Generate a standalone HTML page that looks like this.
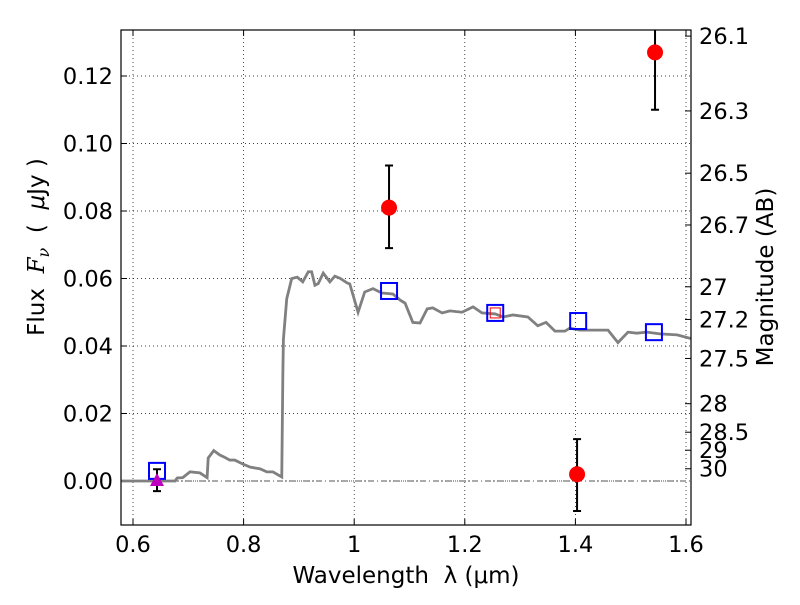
<!DOCTYPE html>
<html><head><meta charset="utf-8"><style>
body{margin:0;background:#fff}
svg text{font-family:"DejaVu Sans","Liberation Sans",sans-serif;fill:#000;white-space:pre}
</style></head><body>
<svg id="c" width="800" height="600"></svg>
<script>
const specLam=[0.578,0.676,0.680,0.690,0.703,0.721,0.734,0.736,0.746,0.757,0.766,0.775,0.784,0.799,0.812,0.830,0.842,0.853,0.869,0.871,0.872,0.878,0.887,0.897,0.907,0.917,0.923,0.929,0.935,0.944,0.956,0.965,0.975,0.987,0.992,1.007,1.019,1.034,1.050,1.070,1.083,1.092,1.106,1.119,1.132,1.142,1.159,1.173,1.195,1.215,1.231,1.255,1.269,1.287,1.314,1.332,1.347,1.363,1.381,1.390,1.408,1.432,1.459,1.477,1.495,1.511,1.529,1.553,1.584,1.609];
const specFlux=[0,0,0.0009,0.001,0.0027,0.0024,0.001,0.0068,0.009,0.0077,0.007,0.0062,0.0062,0.005,0.0041,0.0036,0.0027,0.0027,0.0012,0.032,0.042,0.054,0.060,0.0604,0.059,0.062,0.062,0.058,0.0585,0.0616,0.059,0.0607,0.0600,0.0587,0.0584,0.050,0.056,0.057,0.0557,0.0554,0.0536,0.0527,0.047,0.0468,0.051,0.0513,0.0498,0.0504,0.050,0.0516,0.0498,0.0495,0.0486,0.0492,0.0486,0.046,0.047,0.0444,0.0444,0.0453,0.0447,0.0447,0.0447,0.041,0.0441,0.0438,0.0441,0.0436,0.0433,0.0422];
const modelLam=[0.6434,1.063,1.255,1.405,1.542];
const modelFlux=[0.003,0.0563,0.0498,0.0474,0.0441];
const obsLam=[1.063,1.403,1.544];
const obsFlux=[0.081,0.002,0.127];
const obsLo=[0.069,-0.0089,0.110];
const obsHi=[0.0935,0.0124,0.144];
const limLam=[0.6434];const limFlux=[0];const limLo=[-0.003];const limHi=[0.0035];
const xTicks=[0.6,0.8,1.0,1.2,1.4,1.6];const xTickLabels=["0.6","0.8","1","1.2","1.4","1.6"];
const yTicks=[0,0.02,0.04,0.06,0.08,0.10,0.12];const yTickLabels=["0.00","0.02","0.04","0.06","0.08","0.10","0.12"];
const magTicks=[26.1,26.3,26.5,26.7,27,27.2,27.5,28,28.5,29,30];const magLabels=["26.1","26.3","26.5","26.7","27","27.2","27.5","28","28.5","29","30"];
const L=121,R=691,T=30,B=525;
const sx=v=>133+(v-0.6)*553;
const sy=v=>481-v*3375;
const svg=document.getElementById('c');const NS='http://www.w3.org/2000/svg';
function el(t,a,txt){const e=document.createElementNS(NS,t);for(const k in a)e.setAttribute(k,a[k]);if(txt!==undefined)e.textContent=txt;svg.appendChild(e);return e;}
const defs=document.createElementNS(NS,'defs');defs.innerHTML='<clipPath id="cp"><rect x="121" y="30" width="570" height="495"/></clipPath>';svg.appendChild(defs);
xTicks.forEach((v,i)=>{const g=el('line',{x1:sx(v),x2:sx(v),y1:T,y2:B,stroke:'#000','stroke-width':0.7,'stroke-dasharray':'1,3'});

const tk=el('line',{x1:sx(v),x2:sx(v),y1:B,y2:B-6,stroke:'#000'});
const t2=el('line',{x1:sx(v),x2:sx(v),y1:T,y2:T+6,stroke:'#000'});
const tl=el('text',{x:sx(v),y:B+27,'font-size':22.5,'text-anchor':'middle'},xTickLabels[i]);});
yTicks.forEach((v,i)=>{const g=el('line',{x1:L,x2:R,y1:sy(v),y2:sy(v),stroke:'#000','stroke-width':0.7,'stroke-dasharray':'1,3'});

const tk=el('line',{x1:L,x2:L+6,y1:sy(v),y2:sy(v),stroke:'#000'});
const tl=el('text',{x:L-8,y:sy(v)+8,'font-size':22.5,'text-anchor':'end'},yTickLabels[i]);});
magTicks.forEach((m,i)=>{const y=sy(Math.pow(10,(23.9-m)/2.5));
const tk=el('line',{x1:R-6,x2:R,y1:y,y2:y,stroke:'#000'});
const tl=el('text',{x:R+8,y:y+8,'font-size':22.5},magLabels[i]);});
const zl=el('line',{x1:L,x2:R,y1:sy(0),y2:sy(0),stroke:'#555','stroke-width':1,'stroke-dasharray':'6,3,1,3'});
const sp=el('polyline',{points:specLam.map((l,i)=>sx(l)+','+sy(specFlux[i])).join(' '),fill:'none',stroke:'#808080','stroke-width':2.8,'clip-path':'url(#cp)'});

modelLam.forEach((l,i)=>{const r=el('rect',{x:sx(l)-8,y:sy(modelFlux[i])-8,width:16,height:16,fill:'none',stroke:'#0000ff','stroke-width':2});
});
const rs=el('rect',{x:sx(1.255)-5,y:sy(0.0498)-5,width:10,height:10,fill:'none',stroke:'#ff0000','stroke-width':1});
function eb(l,lo,hi,name){const x=sx(l);const e=el('path',{d:`M${x},${sy(lo)}V${sy(hi)}M${x-4},${sy(lo)}H${x+4}M${x-4},${sy(hi)}H${x+4}`,stroke:'#000','stroke-width':2,fill:'none','clip-path':'url(#cp)'});
}
limLam.forEach((l,i)=>{eb(l,limLo[i],limHi[i],'limit-errorbar');const x=sx(l),y=sy(limFlux[i]);
const tr=el('polygon',{points:`${x},${y-8} ${x-7},${y+5} ${x+7},${y+5}`,fill:'#bf00bf'});});
obsLam.forEach((l,i)=>{eb(l,obsLo[i],obsHi[i],'obs-errorbar');const c=el('circle',{cx:sx(l),cy:sy(obsFlux[i]),r:8,fill:'#ff0000'});
});
const fr=el('rect',{x:L,y:T,width:R-L,height:B-T,fill:'none',stroke:'#000','stroke-width':1.2});
const xl=el('text',{x:406,y:583,'font-size':23,'text-anchor':'middle'},'Wavelength  λ (μm)');
const yl=el('text',{x:0,y:0,'font-size':23,'text-anchor':'middle',transform:'translate(44,247) rotate(-90)'});
yl.innerHTML='Flux  <tspan font-style="italic" font-family="DejaVu Serif, serif">F</tspan><tspan font-style="italic" font-family="DejaVu Serif, serif" font-size="16" dy="5">ν</tspan><tspan dy="-5">  (  </tspan><tspan font-style="italic">μ</tspan>Jy )';

const ml=el('text',{x:0,y:0,'font-size':23,'text-anchor':'middle',transform:'translate(773,277) rotate(-90)'},'Magnitude (AB)');
</script>
</body></html>
